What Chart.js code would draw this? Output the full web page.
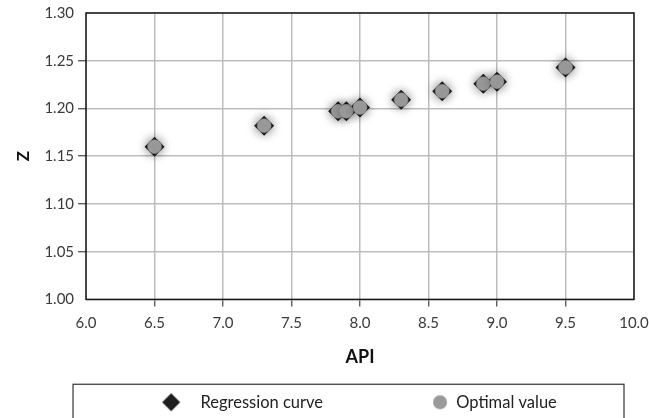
<!DOCTYPE html>
<html>
<head>
<meta charset="utf-8">
<script src="https://cdn.jsdelivr.net/npm/chart.js@4.4.0/dist/chart.umd.min.js"></script>
<style>
  html, body { margin: 0; padding: 0; background: #fff; }
  #wrap { width: 649px; height: 418px; }
</style>
</head>
<body>
<div id="wrap"><canvas id="myChart" width="649" height="418"></canvas></div>
<script>
// data
const apiValues   = [6.5, 7.3, 7.84, 7.9, 8.0, 8.3, 8.6, 8.9, 9.0, 9.5];
const regressionZ = [1.160, 1.182, 1.197, 1.197, 1.201, 1.209, 1.218, 1.226, 1.228, 1.243];
const optimalZ    = [1.160, 1.182, 1.197, 1.197, 1.201, 1.209, 1.218, 1.226, 1.228, 1.243];
const seriesNames = ['Regression curve', 'Optimal value'];
const xTicks = [6.0, 6.5, 7.0, 7.5, 8.0, 8.5, 9.0, 9.5, 10.0];
const yTicks = [1.00, 1.05, 1.10, 1.15, 1.20, 1.25, 1.30];

const FONT = 'Lato, "Open Sans", sans-serif';
const LEGEND_FONT = 16.5;
const LEGEND_PAD = 23;
const ICON_W = 102;

// small canvases used as legend icons (lets the icon sit where it sits in the picture)
function legendIcon(kind, cx) {
    const c = document.createElement('canvas');
    c.width = ICON_W;
    c.height = 22;
    const g = c.getContext('2d');
    g.beginPath();
    if (kind === 'diamond') {
        g.fillStyle = '#1e1e1e';
        g.moveTo(cx, 2); g.lineTo(cx + 9, 11); g.lineTo(cx, 20); g.lineTo(cx - 9, 11);
        g.closePath();
    } else {
        g.fillStyle = '#9a9a9a';
        g.arc(cx, 11, 7, 0, Math.PI * 2);
    }
    g.fill();
    return c;
}
const icons = [legendIcon('diamond', 81), legendIcon('circle', 94)];

const toPoints = (xs, ys) => xs.map((x, i) => ({ x: x, y: ys[i] }));

// soft grey glow behind the markers
const glowPlugin = {
    id: 'glow',
    beforeDatasetDraw(chart) {
        const ctx = chart.ctx;
        ctx.save();
        ctx.shadowColor = 'rgba(0,0,0,0.32)';
        ctx.shadowBlur = 11;
    },
    afterDatasetDraw(chart) {
        chart.ctx.restore();
    }
};

// frame around the plot and around the legend
const framePlugin = {
    id: 'frame',
    beforeDatasetsDraw(chart) {
        const a = chart.chartArea;
        const ctx = chart.ctx;
        ctx.save();
        ctx.strokeStyle = '#1a1a1a';
        ctx.lineWidth = 1.5;
        ctx.strokeRect(a.left, a.top, a.right - a.left, a.bottom - a.top);
        const lg = chart.legend;
        const boxTop = lg.top + LEGEND_PAD + LEGEND_FONT / 2 - 18;
        ctx.lineWidth = 1.2;
        ctx.strokeStyle = '#333';
        ctx.strokeRect(a.left - 13, boxTop, (a.right - 10) - (a.left - 13), 60);
        ctx.restore();
    }
};

// no tick mark at the two ends of an axis
const endTick = (c) => {
    return c.index === 0 || (c.scale && c.index === c.scale.ticks.length - 1) ? 'rgba(0,0,0,0)' : '#444';
};

const ctx = document.getElementById('myChart').getContext('2d');
const myChart = new Chart(ctx, {
    type: 'scatter',
    data: {
        datasets: [
            {
                label: seriesNames[0],
                data: toPoints(apiValues, regressionZ),
                order: 2,
                pointStyle: 'rectRot',
                pointRadius: 10,
                pointHoverRadius: 10,
                backgroundColor: '#1e1e1e',
                borderColor: '#1e1e1e',
                borderWidth: 0
            },
            {
                label: seriesNames[1],
                data: toPoints(apiValues, optimalZ),
                order: 1,
                pointStyle: 'circle',
                pointRadius: 7,
                pointHoverRadius: 7,
                backgroundColor: '#9a9a9a',
                borderColor: '#8a8a8a',
                borderWidth: 0.5
            }
        ]
    },
    options: {
        responsive: false,
        animation: false,
        layout: { autoPadding: false, padding: { left: 13, right: 15, top: 13, bottom: 0 } },
        scales: {
            x: {
                type: 'linear',
                min: 6, max: 10,
                afterBuildTicks: (s) => { s.ticks = xTicks.map(v => ({ value: v })); },
                // let the last label hang into the right margin
                afterFit: (s) => { s.paddingRight = 0; },
                ticks: {
                    font: { family: FONT, size: 15 },
                    color: '#3a3a3a',
                    padding: 8,
                    callback: (v) => Number(v).toFixed(1)
                },
                grid: {
                    color: '#bdbdbd',
                    lineWidth: 1.5,
                    tickLength: 7,
                    tickColor: endTick,
                    tickWidth: 1.2
                },
                border: { display: false },
                title: {
                    display: true,
                    text: 'API',
                    font: { family: FONT, size: 18, weight: 'bold' },
                    color: '#111',
                    padding: { top: 6, bottom: 3 }
                }
            },
            y: {
                type: 'linear',
                min: 1.0, max: 1.3,
                afterBuildTicks: (s) => { s.ticks = yTicks.map(v => ({ value: v })); },
                ticks: {
                    font: { family: FONT, size: 15 },
                    color: '#3a3a3a',
                    padding: 4,
                    callback: (v) => Number(v).toFixed(2)
                },
                grid: {
                    color: '#bdbdbd',
                    lineWidth: 1.5,
                    tickLength: 8,
                    tickColor: endTick,
                    tickWidth: 1.2
                },
                border: { display: false },
                title: {
                    display: true,
                    text: 'Z',
                    font: { family: FONT, size: 17, weight: 'bold' },
                    color: '#111',
                    padding: { top: 0, bottom: 7 }
                }
            }
        },
        plugins: {
            legend: {
                position: 'bottom',
                maxHeight: 47,
                labels: {
                    usePointStyle: true,
                    pointStyleWidth: ICON_W,
                    padding: LEGEND_PAD,
                    color: '#222',
                    font: { family: FONT, size: LEGEND_FONT },
                    generateLabels: (chart) => chart.data.datasets.map((d, i) => ({
                        text: d.label,
                        pointStyle: icons[i],
                        fillStyle: d.backgroundColor,
                        strokeStyle: d.backgroundColor,
                        lineWidth: 0,
                        hidden: false,
                        datasetIndex: i,
                        fontColor: '#222'
                    }))
                }
            },
            tooltip: { enabled: false }
        }
    },
    plugins: [glowPlugin, framePlugin]
});
</script>
</body>
</html>
